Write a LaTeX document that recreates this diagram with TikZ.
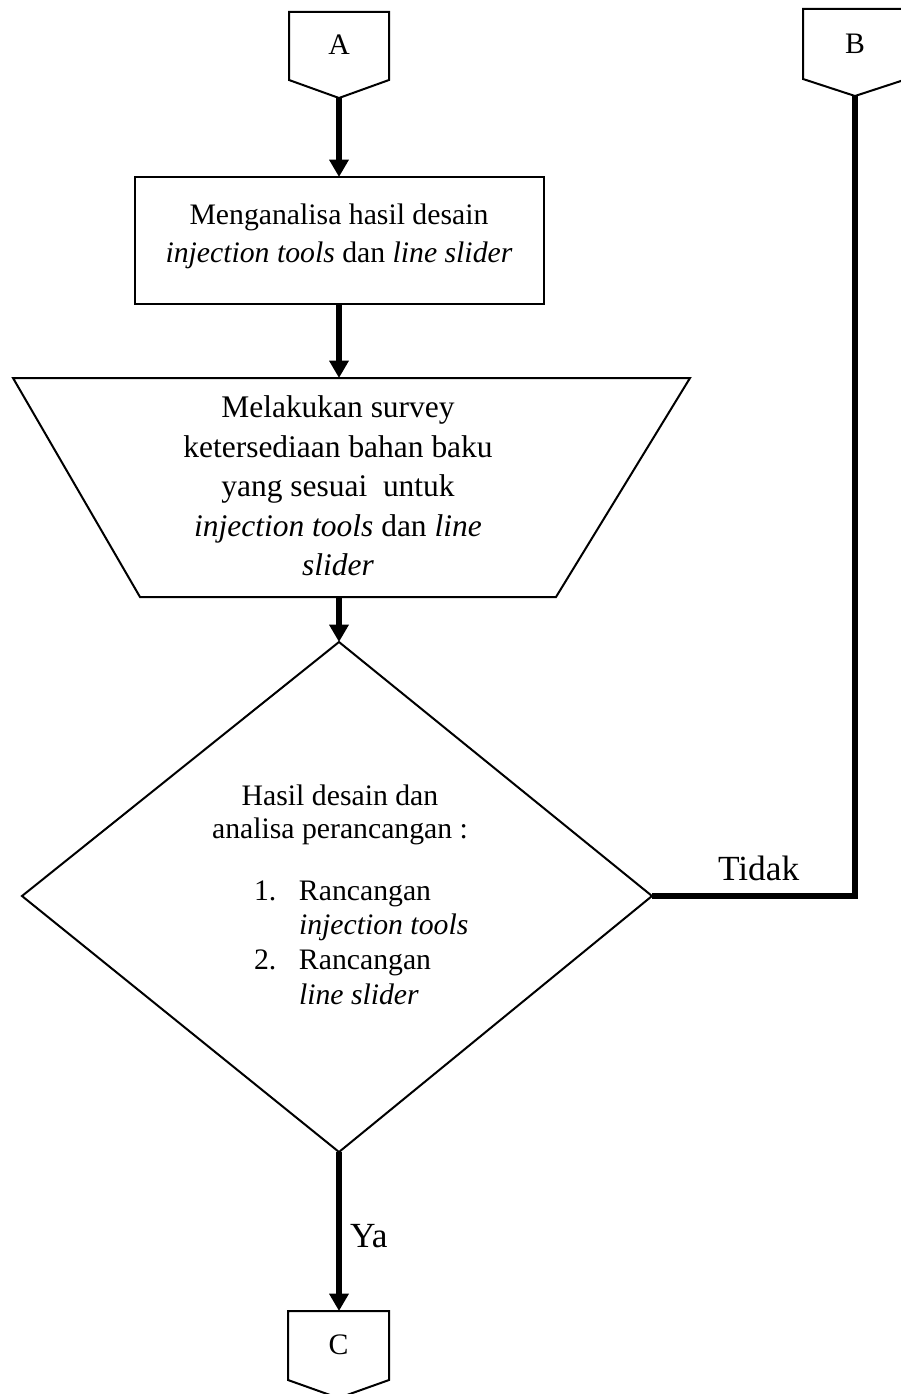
\documentclass[tikz,border=0pt]{standalone}
\usepackage{fontspec}
\setmainfont{Liberation Serif}
\usetikzlibrary{arrows.meta}

\tikzset{every picture/.style={line width=1.5pt}}
\tikzset{
  flowline/.style={line width=4.2pt,-{Triangle[width=14pt,length=13pt]}},
  plainline/.style={line width=4.2pt},
  boxtext/.style={inner sep=0pt,align=center,font=\fontsize{22.3}{28.5}\selectfont},
  traptext/.style={inner sep=0pt,align=center,font=\fontsize{23.6}{29.6}\selectfont},
  labeltext/.style={inner sep=0pt,font=\fontsize{26.5}{30}\selectfont}
}

\begin{document}
\begin{tikzpicture}[x=0.75pt,y=0.75pt,yscale=-1,xscale=1]
\useasboundingbox (0,0) rectangle (900,1394);

%Shape: Off-page connector A
\draw   (289,12) -- (389,12) -- (389,80) -- (339,98) -- (289,80) -- cycle ;
\coordinate (offA) at (339,98);
%Shape: Off-page connector B
\draw   (803,9) -- (907,9) -- (907,79) -- (855,96) -- (803,79) -- cycle ;
\coordinate (offB) at (855,96);
%Shape: Off-page connector C
\draw   (288,1311) -- (389,1311) -- (389,1380) -- (338.5,1398) -- (288,1380) -- cycle ;
\coordinate (offC) at (339,1311);

%Shape: Rectangle
\draw   (135,177) rectangle (544,304) ;
\coordinate (analisa-n) at (339,177);
\coordinate (analisa-s) at (339,304);
%Shape: Trapezoid
\draw   (13,378) -- (690,378) -- (556,597) -- (140,597) -- cycle ;
\coordinate (survey-n) at (339,378);
\coordinate (survey-s) at (339,597);
%Shape: Diamond
\draw   (339,642) -- (652,896) -- (339,1152) -- (22,896) -- cycle ;
\coordinate (cek-n) at (339,642);
\coordinate (cek-e) at (652,896);
\coordinate (cek-s) at (339,1152);

%Straight Lines
\draw [flowline] (offA) -- (analisa-n) ;
\draw [flowline] (analisa-s) -- (survey-n) ;
\draw [flowline] (survey-s) -- (cek-n) ;
\draw [flowline] (cek-s) -- (offC) ;
\draw [plainline] (offB) |- (cek-e) ;

% Text Node
\node [boxtext] (txtA) at (339,45) {A};
% Text Node
\node [boxtext] (txtB) at (855,44) {B};
% Text Node
\node [boxtext] (txtC) at (338.5,1345) {C};
% Text Node
\node [boxtext] (txtAnalisa) at (339,236) {Menganalisa hasil desain\\\textit{injection tools} dan \textit{line slider}};
% Text Node
\node [traptext] (txtSurvey) at (338,486) {Melakukan survey\\ketersediaan bahan baku\\yang sesuai\ \ untuk\\\textit{injection tools} dan \textit{line}\\\textit{slider}};
% Text Node
\node [boxtext, font=\fontsize{22.3}{24.5}\selectfont] (txtCek) at (340,815) {Hasil desain dan\\analisa perancangan :};
% Text Node
\node [boxtext, align=left, anchor=north west, font=\fontsize{22.3}{26}\selectfont] (txtList) at (253,875) {\begin{tabular}{@{}p{33.75pt}@{}l@{}}1. & Rancangan\\ & \textit{injection tools}\\2. & Rancangan\\ & \textit{line slider}\end{tabular}};
% Text Node
\node [labeltext, anchor=base west] (lblTidak) at (717,880) {Tidak};
% Text Node
\node [labeltext, anchor=base west] (lblYa) at (349,1247) {Ya};

\end{tikzpicture}
\end{document}
